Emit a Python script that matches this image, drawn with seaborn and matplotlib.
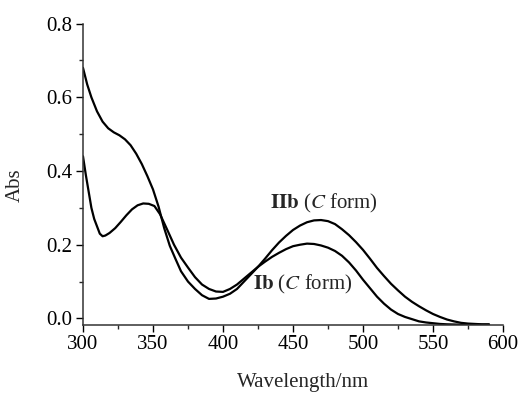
import numpy as np
import pandas as pd
import matplotlib
matplotlib.use("Agg")
import matplotlib.pyplot as plt
import seaborn as sns
from matplotlib.ticker import MultipleLocator
from matplotlib import font_manager as fm

# ---- data ----
wl_IIb = [300, 303, 306, 310, 314, 318, 322, 326, 330, 334, 338, 342, 346, 350,
          354, 358, 362, 366, 370, 375, 380, 385, 390, 395, 400, 405, 410, 415,
          420, 425, 430, 435, 440, 445, 450, 455, 460, 465, 470, 475, 480, 485,
          490, 495, 500, 505, 510, 515, 520, 525, 530, 535, 540, 545, 550, 555,
          560, 565, 570, 575, 580, 585, 590]
abs_IIb = [0.680, 0.635, 0.600, 0.562, 0.534, 0.516, 0.505, 0.497, 0.486, 0.470,
           0.447, 0.419, 0.386, 0.350, 0.303, 0.245, 0.197, 0.162, 0.128, 0.100,
           0.080, 0.063, 0.053, 0.054, 0.059, 0.067, 0.080, 0.100, 0.120, 0.140,
           0.162, 0.185, 0.206, 0.224, 0.240, 0.252, 0.261, 0.266, 0.267, 0.264,
           0.256, 0.242, 0.226, 0.207, 0.186, 0.162, 0.137, 0.115, 0.094, 0.076,
           0.059, 0.045, 0.033, 0.022, 0.012, 0.004, -0.003, -0.008, -0.012,
           -0.014, -0.015, -0.016, -0.016]

wl_Ib = [300, 302, 304, 306, 308, 310, 312, 314, 316, 319, 323, 327, 331, 335,
         339, 343, 347, 351, 355, 360, 365, 370, 375, 380, 385, 390, 395, 400,
         405, 410, 415, 420, 425, 430, 435, 440, 445, 450, 455, 460, 465, 470,
         475, 480, 485, 490, 495, 500, 505, 510, 515, 520, 525, 530, 535, 540,
         545, 550, 555, 560, 570, 580, 590]
abs_Ib = [0.440, 0.390, 0.345, 0.300, 0.270, 0.250, 0.230, 0.223, 0.225, 0.232,
          0.245, 0.262, 0.280, 0.296, 0.307, 0.312, 0.311, 0.305, 0.283, 0.242,
          0.200, 0.165, 0.138, 0.112, 0.092, 0.080, 0.073, 0.072, 0.080, 0.092,
          0.108, 0.124, 0.140, 0.154, 0.167, 0.178, 0.188, 0.196, 0.200, 0.203,
          0.202, 0.198, 0.192, 0.183, 0.170, 0.152, 0.130, 0.105, 0.082, 0.059,
          0.040, 0.024, 0.012, 0.004, -0.002, -0.008, -0.011, -0.013, -0.015,
          -0.016, -0.017, -0.017, -0.017]

series_names = ["IIb (C form)", "Ib (C form)"]
x_ticks = [300, 350, 400, 450, 500, 550, 600]
y_ticks = [0.0, 0.2, 0.4, 0.6, 0.8]

df = pd.concat([
    pd.DataFrame({"wl": wl_IIb, "abs": abs_IIb, "series": series_names[0]}),
    pd.DataFrame({"wl": wl_Ib, "abs": abs_Ib, "series": series_names[1]}),
])

sns.set_style("ticks")
# make sure a Times-like serif is found
for f in fm.findSystemFonts():
    if "Liberation" in f and "Serif" in f:
        try:
            fm.fontManager.addfont(f)
        except Exception:
            pass
names = {f.name for f in fm.fontManager.ttflist}
serif = "Liberation Serif" if "Liberation Serif" in names else "STIXGeneral"
plt.rcParams["font.family"] = [serif, "STIXGeneral", "DejaVu Serif"]
plt.rcParams["mathtext.fontset"] = "stix"

FS = 15

fig = plt.figure(figsize=(5.30, 3.94), dpi=100)
ax = fig.add_axes([0.1566, 0.175, 0.7925, 0.765])

sns.lineplot(data=df, x="wl", y="abs", hue="series", units="series",
             estimator=None, sort=False, palette=["black", "black"],
             linewidth=1.6, legend=False, ax=ax)

ax.set_xlim(300, 600)
ax.set_ylim(-0.018, 0.8)
ax.set_xticks(x_ticks)
ax.set_yticks(y_ticks)
ax.set_yticklabels([f"{v:.1f}" for v in y_ticks])
ax.xaxis.set_minor_locator(MultipleLocator(25))
ax.yaxis.set_minor_locator(MultipleLocator(0.1))
ax.tick_params(which="major", direction="out", length=5, width=1.0,
               labelsize=FS, colors="black", pad=2.5)
ax.tick_params(which="minor", direction="out", length=3, width=1.0)
for s in ["top", "right"]:
    ax.spines[s].set_visible(False)
for s in ["left", "bottom"]:
    ax.spines[s].set_linewidth(1.1)
    ax.spines[s].set_color("#333333")

ax.set_xlabel("Wavelength/nm", fontsize=FS)
ax.set_ylabel("Abs", fontsize=FS)
ax.xaxis.label.set_verticalalignment("baseline")
ax.xaxis.set_label_coords(0.524, -0.207)
ax.yaxis.set_label_coords(-0.138, 0.465)

ax.text(433.5, 0.313, r"$\mathbf{IIb}$ ($\mathit{C}$ form)", fontsize=FS,
        va="center", ha="left")
ax.text(421.5, 0.091, r"$\mathbf{Ib}$ ($\mathit{C}$ form)", fontsize=FS,
        va="center", ha="left")

fig.savefig("out.png", dpi=100)
